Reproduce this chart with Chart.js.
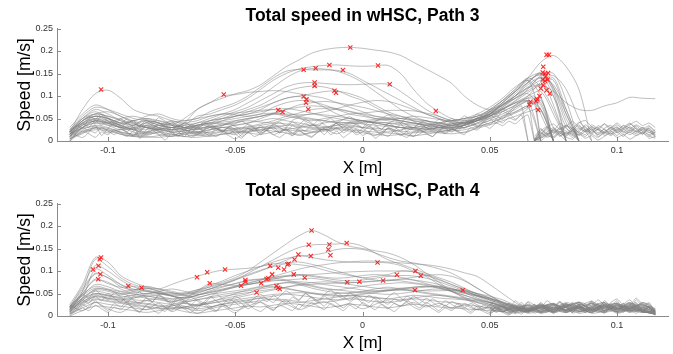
<!DOCTYPE html>
<html>
<head>
<meta charset="utf-8">
<script src="https://cdn.jsdelivr.net/npm/chart.js@4.4.1/dist/chart.umd.min.js"></script>
<style>
  html, body { margin: 0; padding: 0; background: #fff; overflow: hidden; }
  .panel { position: absolute; left: 0; width: 725px; height: 179px; }
</style>
</head>
<body>
<div class="panel" style="top:0"><canvas id="path3"></canvas></div>
<div class="panel" style="top:175px"><canvas id="path4"></canvas></div>
<script>
// Shared axis setup
const xTicks = [-0.1, -0.05, 0, 0.05, 0.1];
const yTicks = [0, 0.05, 0.1, 0.15, 0.2, 0.25];

// Sampling grid of the smooth trajectories (X in m)
const xGrid = [-0.115, -0.11, -0.105, -0.1, -0.095, -0.09, -0.085, -0.08, -0.075, -0.07,
  -0.065, -0.06, -0.055, -0.05, -0.045, -0.04, -0.035, -0.03, -0.025, -0.02,
  -0.015, -0.01, -0.005, 0, 0.005, 0.01, 0.015, 0.02, 0.025, 0.03,
  0.035, 0.04, 0.045, 0.05, 0.055, 0.06, 0.065, 0.07, 0.075, 0.08,
  0.085, 0.09, 0.095, 0.1, 0.105, 0.11, 0.115];
// Fine grid for the jittery trajectories (X in m)
const xFine = [-0.115, -0.1125, -0.11, -0.1075, -0.105, -0.1025, -0.1, -0.0975, -0.095, -0.0925,
  -0.09, -0.0875, -0.085, -0.0825, -0.08, -0.0775, -0.075, -0.0725, -0.07, -0.0675,
  -0.065, -0.0625, -0.06, -0.0575, -0.055, -0.0525, -0.05, -0.0475, -0.045, -0.0425,
  -0.04, -0.0375, -0.035, -0.0325, -0.03, -0.0275, -0.025, -0.0225, -0.02, -0.0175,
  -0.015, -0.0125, -0.01, -0.0075, -0.005, -0.0025, 0, 0.0025, 0.005, 0.0075,
  0.01, 0.0125, 0.015, 0.0175, 0.02, 0.0225, 0.025, 0.0275, 0.03, 0.0325,
  0.035, 0.0375, 0.04, 0.0425, 0.045, 0.0475, 0.05, 0.0525, 0.055, 0.0575,
  0.06, 0.0625, 0.065, 0.0675, 0.07, 0.0725, 0.075, 0.0775, 0.08, 0.0825,
  0.085, 0.0875, 0.09, 0.0925, 0.095, 0.0975, 0.1, 0.1025, 0.105, 0.1075,
  0.11, 0.1125, 0.115];
// Grids for the noisy tails after the stop
const xNoise3 = [0.0675, 0.07, 0.0725, 0.075, 0.0775, 0.08, 0.0825, 0.085, 0.0875, 0.09,
  0.0925, 0.095, 0.0975, 0.1, 0.1025, 0.105, 0.1075, 0.11, 0.1125, 0.115];
const xNoise4 = [0.05, 0.0525, 0.055, 0.0575, 0.06, 0.0625, 0.065, 0.0675, 0.07, 0.0725,
  0.075, 0.0775, 0.08, 0.0825, 0.085, 0.0875, 0.09, 0.0925, 0.095, 0.0975,
  0.1, 0.1025, 0.105, 0.1075, 0.11, 0.1125, 0.115];

// Path 3 speeds in mm/s (on xGrid)
const path3Lines = [
  [15,45,60,55,48,40,45,35,30,40,70,85,95,105,112,125,145,165,180,195,203,207,208,206,202,198,190,175,160,145,128,100,80,70,85,110,140,175,190,165,115,0],
  [20,50,70,60,45,35,50,40,30,35,55,60,70,80,95,115,135,150,160,165,168,169,167,166,167,168,150,115,85,65,50,45,50,60,80,105,130,150,120,60,0],
  [25,40,55,50,35,45,30,25,40,45,50,65,75,85,100,120,140,155,159,158,158,157,150,135,120,105,90,75,60,50,40,35,45,65,90,115,140,120,70,0],
  [10,35,45,40,30,25,35,40,25,30,40,50,60,70,85,100,120,140,155,161,160,155,145,130,110,90,70,55,45,40,35,30,40,55,75,100,130,148,110,0],
  [20,50,65,50,40,30,25,35,45,35,30,45,55,65,75,90,105,120,128,130,128,126,125,126,127,126,110,90,70,55,45,40,45,60,85,110,135,145,100,0],
  [15,30,45,35,25,30,40,30,20,25,35,40,50,60,70,80,95,110,118,122,120,112,100,90,75,60,50,45,40,30,25,35,45,60,80,100,125,140,80,0],
  [10,40,55,45,35,25,20,30,40,30,25,35,45,55,60,70,85,95,100,105,110,111,105,95,80,65,55,45,40,35,30,35,50,70,90,115,140,150,115,40,0],
  [20,45,60,65,55,40,30,25,30,35,40,45,50,55,65,75,85,95,99,90,75,60,50,45,40,35,30,25,30,40,45,50,60,75,95,120,135,100,0],
  [15,35,50,40,30,35,45,40,35,50,70,85,100,103,108,110,112,110,105,100,95,85,75,65,55,50,45,40,35,30,30,35,45,60,85,110,130,152,120,50,0],
  [20,70,105,113,95,70,60,55,45,40,35,45,50,55,60,65,70,72,68,62,55,50,45,45,40,35,30,30,35,40,45,50,55,70,90,110,135,60,0],
  [25,55,75,70,60,50,45,35,30,40,45,55,60,62,65,68,70,65,55,50,45,40,42,45,48,50,45,40,35,30,28,35,50,65,80,95,105,70,0],
  [15,30,40,35,30,20,15,25,30,25,20,30,35,45,50,55,60,55,50,45,50,55,60,62,65,68,68,67,62,55,45,40,45,55,70,85,100,110,60,0],
  [10,25,35,30,20,15,20,15,10,15,20,25,30,35,40,45,50,45,40,35,40,45,50,45,40,35,30,25,20,25,30,35,45,55,70,85,95,90,30,0],
  [5,20,30,25,15,10,12,20,15,10,15,20,25,20,25,30,35,30,25,20,25,30,35,30,25,20,25,30,25,20,25,30,40,50,60,75,88,80,0],
  [30,60,80,70,55,45,55,60,50,45,50,55,60,58,55,60,75,85,90,88,80,70,60,55,50,48,50,55,52,48,45,50,55,65,80,100,120,140,125,70,0],
  [15,45,55,50,40,45,50,45,35,30,35,40,38,35,40,50,60,70,80,85,88,85,80,75,68,60,55,50,45,40,35,40,48,58,72,90,115,145,150,90,0],
  [0,30,40,38,30,25,15,20,25,20,18,25,30,28,30,35,40,50,55,60,58,55,50,45,42,40,38,35,30,28,32,38,45,52,65,80,100,130,135,60,0],
  [20,40,50,45,35,25,30,35,30,25,20,18,22,28,32,38,45,55,62,70,72,70,65,58,50,45,40,38,36,34,35,40,50,62,78,95,112,125,100,30,0],
  [10,30,45,40,50,55,48,40,35,30,25,30,35,40,45,42,40,38,35,30,30,35,40,38,35,32,30,28,26,30,34,40,48,56,66,78,88,0],
  [25,50,60,55,45,38,30,25,20,22,28,32,30,25,20,25,30,35,32,28,25,28,32,30,28,25,22,20,25,30,35,42,50,60,72,84,90,70,0],
  [12,28,32,28,20,15,10,8,12,18,15,10,15,20,18,15,20,25,30,35,32,28,25,22,20,18,15,12,15,20,25,30,38,45,55,65,75,0],
  [20,45,55,50,40,35,30,28,25,30,35,40,45,50,55,60,62,60,58,60,65,72,80,86,90,88,80,70,60,50,42,40,45,55,70,88,108,125,140,70,0],
  [18,38,48,42,35,28,40,45,38,30,28,32,38,42,48,55,62,70,75,78,76,72,66,60,55,52,50,48,44,40,38,42,50,60,75,95,118,135,145,115,50,0],
  [8,22,28,25,18,12,18,25,20,15,12,15,20,25,28,30,28,25,22,25,30,35,38,40,42,40,35,30,28,25,22,25,32,40,50,62,75,85,0],
  [5,18,25,22,15,10,8,12,15,10,8,12,15,18,22,25,22,18,15,18,22,25,22,18,15,12,15,18,20,18,16,20,28,36,45,55,65,70,0],
  [15,35,45,40,32,28,35,30,25,28,32,38,42,45,50,55,60,58,52,48,45,42,40,42,45,48,45,40,38,36,38,45,55,68,82,100,118,125,110,85,70,68,78,85,97,95,94],
  [22,8,30,18,26,12,34,20,10,24,16,30,22,14,28,18,32,24,12,20,26,16,30,22,12,28,20,10,24,34,26,18,30,40,52,64,80,95,0]
];
// Path 3 jittery trajectories (mm/s, on xFine)
const path3Fine = [
  [10,25,40,30,45,35,50,38,28,42,30,20,34,26,40,30,22,36,28,18,30,24,38,28,20,32,26,16,28,22,34,26,38,30,22,34,28,40,32,46,36,28,42,34,26,38,30,44,36,26,40,32,22,34,28,40,30,24,36,30,42,34,48,40,52,44,58,50,66,60,74,82,90,0],
  [0,18,30,22,36,12,28,40,32,20,34,8,24,36,28,16,30,22,10,26,34,20,12,28,22,30,16,6,20,28,14,24,32,18,26,12,30,22,36,28,14,30,40,26,32,18,28,36,22,14,30,24,38,20,10,26,34,28,20,36,30,22,38,46,34,42,50,40,56,62,48,60,72,84,0],
  [20,35,28,48,40,55,44,36,50,38,46,30,42,34,26,38,44,32,24,36,30,42,34,28,22,30,38,44,36,28,20,32,26,18,30,42,36,48,40,32,44,50,38,30,42,36,28,20,32,26,38,46,40,52,44,36,30,24,34,28,20,30,36,42,32,40,46,56,48,64,70,78,0],
  [5,12,22,16,8,20,14,26,18,10,22,6,16,24,14,2,18,12,20,8,14,22,16,10,18,12,4,14,20,10,16,24,14,8,18,12,22,16,10,20,28,14,22,8,18,26,12,20,6,16,10,22,14,8,20,26,16,10,24,18,28,20,14,30,24,36,28,40,34,44,38,50,58,0],
  [15,30,45,55,48,60,52,44,38,50,42,34,46,40,52,44,36,30,40,34,26,36,30,24,34,40,32,26,38,30,22,28,36,42,34,46,52,44,38,30,24,34,40,48,54,46,40,32,44,50,58,50,42,36,30,40,46,38,48,42,50,44,56,48,60,54,66,58,72,64,80,88,96,100,0],
  [0,10,16,24,18,30,22,14,26,20,12,24,18,30,22,14,20,10,18,26,20,14,24,30,22,16,24,10,18,26,30,22,14,20,28,18,24,14,8,20,28,22,30,18,26,14,20,32,24,16,28,20,12,22,30,24,18,10,22,16,26,34,28,38,30,42,36,48,40,52,46,58,0]
];
// Path 3 noisy tail after the stop (mm/s, on xNoise3)
const path3Noise = [
  [0,12,25,18,30,22,15,28,20,32,25,18,30,22,35,28,20,30,24,15],
  [5,20,10,28,15,35,25,12,22,30,18,26,14,28,20,32,22,16,28,10],
  [0,8,18,10,22,14,30,20,36,24,15,28,35,20,30,40,26,18,24,8],
  [10,25,15,8,20,12,26,18,10,24,30,16,22,12,26,18,34,22,14,20],
  [0,15,30,22,40,28,18,32,25,15,28,38,24,32,18,26,36,28,20,12],
  [2,6,14,24,12,18,8,20,14,28,10,18,24,30,22,14,22,30,18,25],
  [0,18,8,15,26,35,28,42,30,20,34,26,16,24,34,22,28,14,32,18],
  [4,10,20,30,18,10,22,14,26,16,8,20,12,20,10,24,16,26,12,6],
  [0,22,32,18,28,16,24,36,20,26,14,22,28,36,26,30,20,26,34,22],
  [0,6,16,26,20,32,44,30,22,36,28,20,30,18,28,38,30,22,28,14],
  [0,28,14,22,10,20,12,24,32,18,26,12,20,26,14,20,12,18,10,20],
  [0,14,30,38,26,34,22,40,46,32,24,38,30,40,28,36,44,34,40,30],
  [6,0,12,6,18,8,4,16,6,12,2,10,18,8,14,4,12,20,6,10]
];
// Path 3 peak markers (X in m, speed in m/s)
const path3MarkX = [-0.1027, -0.0545, -0.0231, -0.0184, -0.013, -0.0077, -0.0048, 0.0061, -0.0188, -0.0188,
  0.0107, -0.011, -0.0104, -0.0231, -0.022, -0.0222, -0.0213, -0.0331, -0.0314, 0.0288,
  0.0723, 0.0732, 0.071, 0.0708, 0.0717, 0.0729, 0.072, 0.0708, 0.0717, 0.0727,
  0.071, 0.07, 0.0723, 0.0736, 0.0695, 0.0687, 0.0682, 0.066, 0.0655, 0.069];
const path3MarkY = [0.1145, 0.1035, 0.1585, 0.1615, 0.169, 0.1577, 0.2077, 0.168, 0.13, 0.1225,
  0.126, 0.1115, 0.107, 0.099, 0.0925, 0.085, 0.0705, 0.069, 0.0645, 0.0667,
  0.1916, 0.1916, 0.165, 0.152, 0.15, 0.151, 0.1438, 0.1366, 0.1335, 0.1366,
  0.124, 0.1167, 0.113, 0.1057, 0.0998, 0.0925, 0.0888, 0.087, 0.0806, 0.069];

// Path 4 speeds in mm/s (on xGrid)
const path4Lines = [
  [20,60,95,85,70,60,55,50,45,48,55,65,75,85,100,120,140,160,178,190,180,165,155,150,145,140,130,115,95,75,55,40,25,15,10,20,15,25,10,20,30,15,25,10,20,15,8],
  [15,50,80,75,60,50,45,40,38,42,50,60,70,80,95,110,125,140,152,158,159,160,162,155,140,125,115,105,95,85,75,62,48,35,22,12,20,10,25,18,8,22,30,15,20,10,5],
  [25,70,130,120,90,75,65,60,55,50,58,68,78,90,100,110,120,128,133,135,140,148,150,148,140,130,122,118,112,105,95,80,62,45,30,18,10,20,12,25,15,28,18,10,22,14,6],
  [10,55,126,110,85,70,62,55,50,45,52,60,70,80,90,100,112,124,134,130,125,122,120,119,119,118,112,100,88,70,55,42,30,22,15,25,12,18,28,12,20,8,24,16,30,12,4],
  [15,45,70,65,55,58,62,60,70,80,88,96,102,104,106,110,116,118,120,115,108,100,92,85,80,78,82,86,90,92,88,78,62,46,30,20,12,24,18,8,26,14,20,10,28,18,10],
  [20,65,112,100,80,65,55,50,48,52,58,64,72,82,92,102,110,116,114,110,102,95,90,85,88,92,100,98,90,80,70,60,50,40,28,16,8,18,10,22,30,14,8,20,12,24,10],
  [12,40,104,90,70,55,50,55,60,55,48,52,58,66,74,80,85,88,90,92,94,96,98,99,100,100,100,99,92,82,70,58,44,32,20,12,22,8,15,25,10,18,30,16,22,8,12],
  [18,55,93,85,65,58,66,60,52,48,54,60,66,72,78,82,86,90,92,90,86,84,86,90,92,90,86,80,72,64,55,46,36,26,18,10,25,16,8,20,28,12,18,26,10,15,5],
  [22,50,82,72,64,66,58,52,45,40,46,54,60,66,70,74,78,80,82,84,80,76,74,76,78,80,82,80,76,70,62,52,40,30,22,15,8,20,28,14,22,10,26,18,12,30,16],
  [10,35,60,58,50,55,62,55,45,35,40,48,52,56,60,66,70,74,76,74,70,66,62,58,55,58,60,62,64,66,60,52,44,36,26,18,25,10,20,14,30,22,12,24,16,8,14],
  [15,40,55,50,45,40,48,52,45,40,55,72,70,68,70,75,80,78,72,66,60,58,62,66,70,72,74,72,68,62,54,46,38,30,20,15,24,10,18,28,12,20,8,26,18,12,6],
  [8,25,45,40,35,30,26,22,18,20,26,32,38,44,50,62,70,74,70,62,56,52,50,55,60,64,60,55,50,46,42,38,32,26,20,12,18,8,14,22,10,16,24,8,18,10,4],
  [20,45,62,58,50,44,40,36,32,38,46,56,64,72,80,82,84,80,74,68,62,58,55,52,50,48,50,54,58,60,56,50,44,38,30,22,14,26,18,10,22,32,16,24,12,20,8],
  [5,30,48,44,38,32,28,24,20,16,22,30,40,50,58,64,66,62,56,50,46,44,46,50,54,56,58,56,52,48,44,40,36,30,22,14,10,20,26,12,18,8,22,14,28,10,6],
  [12,40,58,55,48,52,56,50,44,40,46,52,58,64,70,76,82,88,92,88,84,80,78,80,84,88,90,89,84,76,66,56,46,36,26,18,10,22,14,26,18,10,20,28,14,8,12],
  [18,38,50,46,40,36,34,30,26,30,36,40,44,48,52,56,60,64,68,70,72,73,74,75,77,79,78,74,70,66,60,54,46,38,28,20,14,24,16,30,20,12,26,18,10,22,14],
  [10,28,38,34,30,26,22,18,16,20,24,28,32,36,40,44,48,50,52,50,48,50,52,54,56,57,58,58,56,56,57,57,50,40,30,20,12,20,10,24,16,8,22,14,26,10,5],
  [6,18,30,26,22,18,14,20,24,18,12,16,22,26,30,34,38,36,32,28,30,34,38,36,32,30,34,38,36,32,30,26,22,18,14,10,18,6,14,22,10,18,8,16,24,12,4],
  [14,30,42,38,32,28,34,38,30,22,16,20,26,30,34,40,44,48,46,42,38,36,40,44,42,38,36,40,44,46,42,36,30,24,16,8,16,22,12,20,6,14,22,10,18,26,10],
  [0,12,22,20,16,12,8,12,16,10,6,10,14,18,22,20,24,28,26,22,18,22,26,24,20,18,22,26,24,20,18,16,14,12,10,6,12,18,8,14,20,6,12,18,8,14,2],
  [20,48,66,60,54,48,44,48,52,46,42,48,56,64,72,80,88,96,104,110,114,118,120,122,122,120,118,116,114,110,104,96,88,70,50,30,14,20,10,26,16,8,20,28,12,18,8],
  [10,35,50,46,42,46,50,44,38,32,36,42,48,52,56,60,64,60,56,52,48,46,44,48,52,56,60,64,66,64,60,56,50,44,36,24,14,8,20,12,26,16,10,22,14,28,12],
  [16,32,44,40,36,40,44,40,34,28,24,28,34,40,46,52,58,64,70,74,76,74,70,66,62,60,62,64,66,62,58,52,46,40,32,22,12,18,26,10,20,14,28,8,16,24,10],
  [4,22,36,32,28,24,20,16,22,28,24,20,26,32,36,40,36,32,30,34,38,42,46,44,40,38,42,46,44,40,38,36,34,30,24,16,10,24,14,8,18,28,12,22,16,10,4],
  [24,12,30,16,8,22,14,28,10,20,6,18,26,12,22,30,18,26,14,24,32,20,28,16,26,34,22,30,20,28,18,24,14,20,10,18,6,14,24,8,20,12,22,6,16,26,10]
];
// Path 4 jittery trajectories (mm/s, on xFine)
const path4Fine = [
  [8,22,36,28,44,34,50,40,30,46,36,26,40,32,48,38,28,42,34,24,36,30,44,34,26,38,30,20,34,28,40,32,46,36,28,42,34,50,40,30,44,36,52,42,34,46,38,30,42,34,26,38,32,44,36,28,40,30,22,34,26,18,28,22,14,24,18,10,20,12,
   22,8,16,26,10,20,14,30,18,8,22,12,26,16,6,20,30,14,24,10,18,28,6],
  [0,14,26,18,34,22,12,28,20,32,16,8,24,30,18,10,26,20,34,24,14,30,22,12,26,18,36,28,16,24,32,20,12,28,36,24,16,30,42,32,22,36,28,18,30,40,28,20,34,26,16,28,22,34,26,18,30,22,12,24,16,28,20,10,22,14,8,18,12,4,
   14,24,10,18,6,16,26,12,20,8,24,14,30,18,10,22,12,28,16,24,8,20,4],
  [18,30,48,40,58,46,36,52,42,30,44,54,40,32,46,36,24,38,30,42,34,26,40,50,38,30,44,36,28,40,48,38,30,44,56,46,36,50,42,34,48,58,46,38,52,42,34,46,38,30,42,52,40,32,44,36,28,38,30,22,32,26,18,28,20,14,24,18,10,16,
   8,20,30,16,24,12,22,32,18,10,26,16,34,22,12,28,18,8,24,30,14,20,8],
  [4,10,18,12,24,16,8,20,14,26,18,10,22,14,6,18,12,24,16,8,20,28,16,10,22,14,6,18,26,16,10,20,14,24,18,12,26,20,30,22,14,28,20,12,24,16,30,22,14,26,18,10,22,30,20,14,24,16,8,18,12,22,14,6,16,10,4,14,8,2,
   12,4,18,10,22,14,6,20,12,28,16,8,18,26,12,20,10,24,14,6,16,22,2]
];
// Path 4 noisy tail (mm/s, on xNoise4)
const path4Noise = [
  [20,12,25,8,18,30,14,22,10,26,16,32,20,12,24,8,18,28,14,22,34,16,26,12,20,30,10],
  [15,25,10,20,6,16,24,12,30,18,8,22,14,26,10,20,32,16,24,10,18,28,12,36,20,14,6],
  [30,18,26,14,34,22,10,20,28,12,24,16,8,18,26,14,22,36,24,16,28,12,22,40,26,18,8],
  [10,20,8,16,24,12,18,6,14,22,10,20,28,16,24,12,20,8,18,26,14,22,30,18,10,20,12],
  [25,35,20,28,16,22,12,26,18,34,24,14,20,30,18,26,12,22,16,30,38,24,18,28,14,22,16],
  [5,14,22,10,18,26,8,16,12,20,6,14,24,10,18,8,16,26,10,22,12,18,8,24,14,10,4],
  [18,8,16,28,20,12,32,24,14,20,28,18,10,22,32,20,28,14,34,22,16,26,36,20,30,24,12],
  [8,22,12,6,14,20,10,24,16,8,18,12,22,6,14,24,12,20,30,14,24,10,18,26,12,16,6]
];
// Path 4 peak markers (X in m, speed in m/s)
const path4MarkX = [-0.1027, -0.1032, -0.1037, -0.1058, -0.103, -0.1038, -0.092, -0.0868, -0.065, -0.061,
  -0.054, -0.06, -0.0477, -0.046, -0.046, -0.0416, -0.0398, -0.0377, -0.037, -0.0363,
  -0.0355, -0.0331, -0.0338, -0.0331, -0.0325, -0.0308, -0.0295, -0.029, -0.027, -0.0267,
  -0.0252, -0.0227, -0.0211, -0.0203, -0.02, -0.013, -0.0134, -0.0126, -0.0062, 0.0059,
  -0.006, -0.0012, 0.0081, 0.0135, 0.0208, 0.0229, 0.0206, 0.0394];
const path4MarkY = [0.13, 0.126, 0.1115, 0.1035, 0.093, 0.0815, 0.0667, 0.063, 0.086, 0.097,
  0.1035, 0.0727, 0.0674, 0.076, 0.08, 0.052, 0.0727, 0.082, 0.0837, 0.1115,
  0.0925, 0.107, 0.0667, 0.063, 0.06, 0.1035, 0.1145, 0.116, 0.0925, 0.1255,
  0.1365, 0.085, 0.1585, 0.1335, 0.19, 0.159, 0.148, 0.135, 0.162, 0.119,
  0.075, 0.076, 0.079, 0.0917, 0.0998, 0.0895, 0.058, 0.057];

const FONT = 'Helvetica, "Liberation Sans", Arial, sans-serif';
const axisColor = '#8a8a8a';
const lineColor = 'rgba(128,128,128,0.72)';

// Pair a speed list (mm/s) with its X grid
function toPoints(vals, grid) {
  const pts = [];
  vals.forEach((v, i) => { if (i < grid.length) pts.push({ x: grid[i], y: v / 1000 }); });
  return pts;
}

function lineSet(vals, grid, tension) {
  return {
    data: toPoints(vals, grid),
    borderColor: lineColor,
    borderWidth: 0.7,
    pointRadius: 0,
    tension: tension,
    fill: false
  };
}

// Inward tick marks like the original figure
const inwardTicks = {
  id: 'inwardTicks',
  afterDraw(chart) {
    const { ctx, chartArea, scales } = chart;
    ctx.save();
    ctx.strokeStyle = axisColor;
    ctx.lineWidth = 1;
    scales.x.ticks.forEach(t => {
      const px = Math.round(scales.x.getPixelForValue(t.value)) + 0.5;
      ctx.beginPath();
      ctx.moveTo(px, chartArea.bottom);
      ctx.lineTo(px, chartArea.bottom - 4);
      ctx.stroke();
    });
    scales.y.ticks.forEach(t => {
      const py = Math.round(scales.y.getPixelForValue(t.value)) + 0.5;
      ctx.beginPath();
      ctx.moveTo(chartArea.left, py);
      ctx.lineTo(chartArea.left + 4, py);
      ctx.stroke();
    });
    ctx.restore();
  }
};

function buildChart(canvasId, title, lines, fine, noise, noiseGrid, markX, markY) {
  const datasets = [];
  datasets.push({
    type: 'scatter',
    data: markX.map((x, i) => ({ x: x, y: markY[i] })),
    pointStyle: 'crossRot',
    pointRadius: 3,
    borderColor: 'rgba(255,30,30,0.95)',
    borderWidth: 1.1,
    order: -1
  });
  lines.forEach(vals => datasets.push(lineSet(vals, xGrid, 0.3)));
  fine.forEach(vals => datasets.push(lineSet(vals, xFine, 0.15)));
  noise.forEach(vals => datasets.push(lineSet(vals, noiseGrid, 0.15)));

  return new Chart(document.getElementById(canvasId), {
    type: 'line',
    data: { datasets: datasets },
    options: {
      responsive: false,
      animation: false,
      devicePixelRatio: 1,
      layout: { padding: { left: 0, right: 57, top: 0, bottom: 0 } },
      plugins: {
        legend: { display: false },
        tooltip: { enabled: false },
        title: {
          display: true,
          fullSize: false,
          text: title,
          color: '#000',
          font: { family: FONT, size: 17.5, weight: 'bold', lineHeight: 1 },
          padding: { top: 7, bottom: 4 }
        }
      },
      scales: {
        x: {
          type: 'linear',
          min: -0.12,
          max: 0.12,
          afterBuildTicks: s => { s.ticks = xTicks.map(v => ({ value: v })); },
          afterFit: s => { s.height = 38; },
          grid: { display: false, drawTicks: false },
          border: { display: true, color: axisColor, width: 1 },
          ticks: {
            color: '#333',
            padding: 4,
            maxRotation: 0,
            font: { family: FONT, size: 9 },
            callback: v => String(v)
          },
          title: {
            display: true,
            text: 'X [m]',
            color: '#000',
            font: { family: FONT, size: 17, lineHeight: 1.24 },
            padding: { top: 0, bottom: 0 }
          }
        },
        y: {
          min: 0,
          max: 0.25,
          afterBuildTicks: s => { s.ticks = yTicks.map(v => ({ value: v })); },
          afterFit: s => { s.width = 57; },
          grid: { display: false, drawTicks: false },
          border: { display: true, color: axisColor, width: 1 },
          ticks: {
            color: '#333',
            padding: 4,
            font: { family: FONT, size: 9 },
            callback: v => String(v)
          },
          title: {
            display: true,
            text: 'Speed [m/s]',
            color: '#000',
            font: { family: FONT, size: 17.5, lineHeight: 1 },
            padding: { top: 16, bottom: 0 }
          }
        }
      }
    },
    plugins: [inwardTicks]
  });
}

['path3', 'path4'].forEach(id => {
  const c = document.getElementById(id);
  c.width = 725;
  c.height = 179;
});

buildChart('path3', 'Total speed in wHSC, Path 3', path3Lines, path3Fine, path3Noise, xNoise3, path3MarkX, path3MarkY);
buildChart('path4', 'Total speed in wHSC, Path 4', path4Lines, path4Fine, path4Noise, xNoise4, path4MarkX, path4MarkY);
</script>
</body>
</html>
